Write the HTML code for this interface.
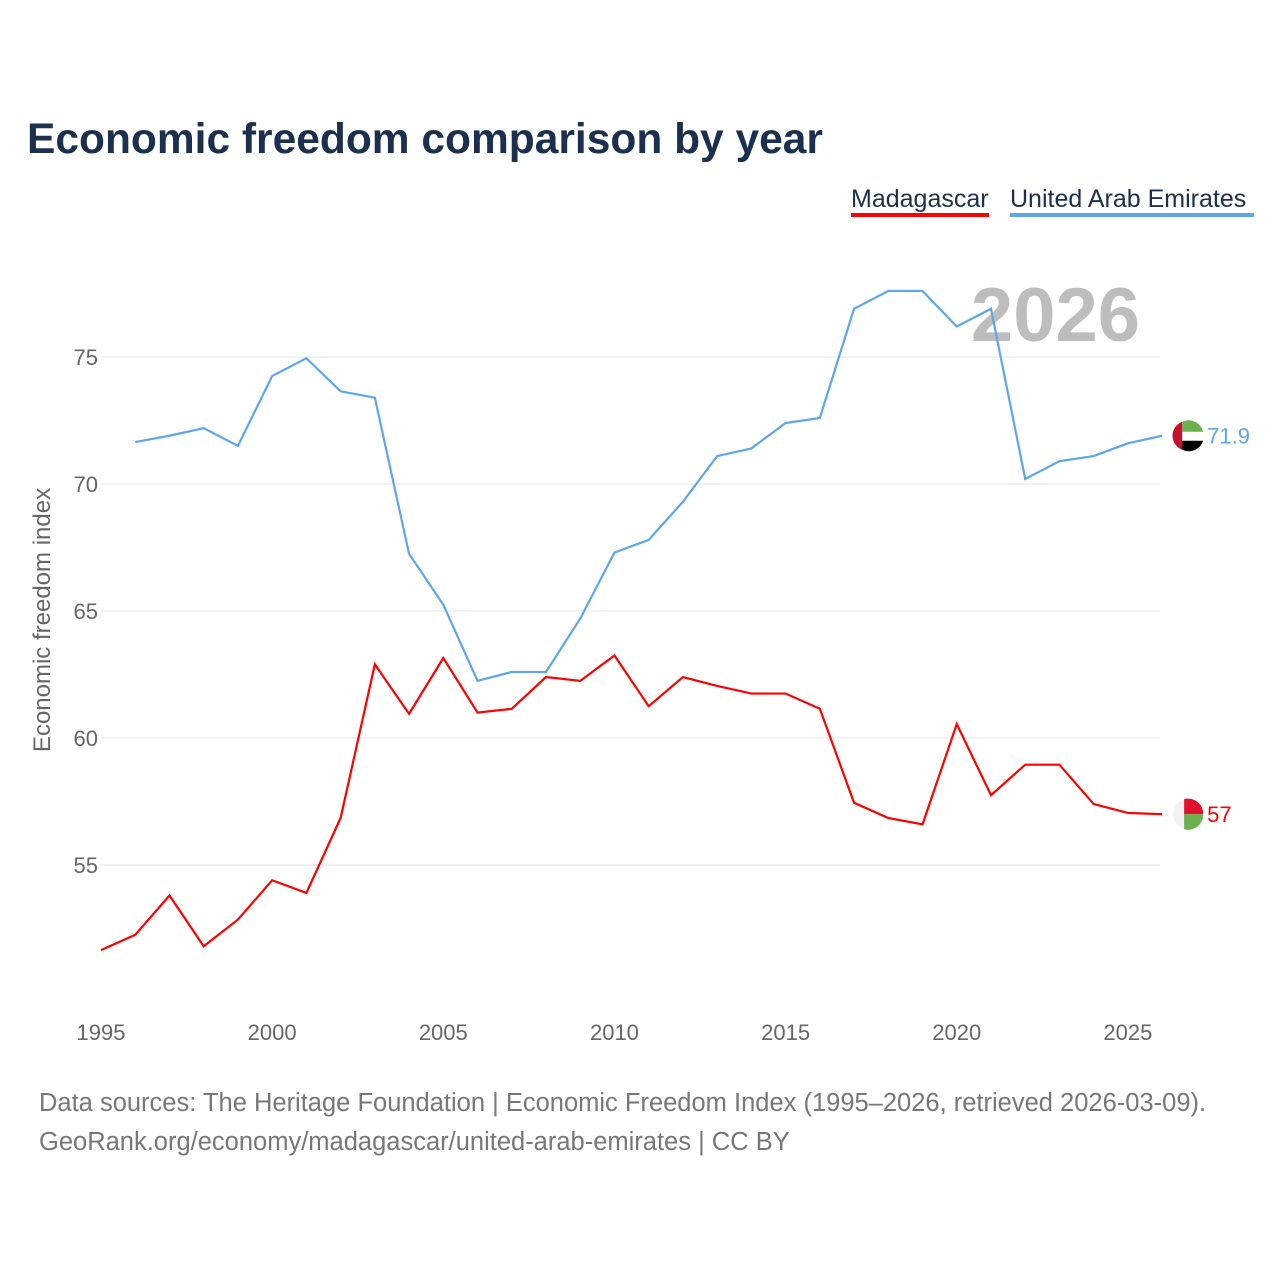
<!DOCTYPE html>
<html><head><meta charset="utf-8"><style>
body{margin:0;width:1280px;height:1280px;background:#fff;font-family:"Liberation Sans",sans-serif;overflow:hidden}
</style></head><body>
<svg width="1280" height="1280" id="svg" font-family="Liberation Sans, sans-serif">
<text x="27" y="153" font-size="42.5" font-weight="bold" fill="#1b2f4e">Economic freedom comparison by year</text>
<g><text x="851" y="207" font-size="25" fill="#1b2f4e">Madagascar</text><rect x="851" y="213" width="138" height="4" fill="#ff0000"/></g>
<g><text x="1010" y="207" font-size="25" fill="#1b2f4e">United Arab Emirates</text><rect x="1010" y="213" width="244" height="4" fill="#5ea6ea"/></g>
<text x="1140" y="341" font-size="76" font-weight="bold" fill="#bdbdbd" text-anchor="end">2026</text>
<text transform="translate(50,620) rotate(-90)" font-size="24" fill="#666" text-anchor="middle">Economic freedom index</text>
<g id="grid"></g><g id="lines"></g>
<g font-size="25.5" fill="#777">
<text x="39" y="1111">Data sources: The Heritage Foundation | Economic Freedom Index (1995–2026, retrieved 2026-03-09).</text>
<text x="39" y="1150">GeoRank.org/economy/madagascar/united-arab-emirates | CC BY</text></g>
</svg>
<script>
const yTicks=[55,60,65,70,75];
const xTicks=[1995,2000,2005,2010,2015,2020,2025];
const uaeYears=[1996,1997,1998,1999,2000,2001,2002,2003,2004,2005,2006,2007,2008,2009,2010,2011,2012,2013,2014,2015,2016,2017,2018,2019,2020,2021,2022,2023,2024,2025,2026];
const uaeValues=[71.65,71.9,72.2,71.5,74.25,74.95,73.65,73.4,67.25,65.25,62.25,62.6,62.6,64.7,67.3,67.8,69.3,71.1,71.4,72.4,72.6,76.9,77.6,77.6,76.2,76.9,70.2,70.9,71.1,71.6,71.9];
const madYears=[1995,1996,1997,1998,1999,2000,2001,2002,2003,2004,2005,2006,2007,2008,2009,2010,2011,2012,2013,2014,2015,2016,2017,2018,2019,2020,2021,2022,2023,2024,2025,2026];
const madValues=[51.65,52.25,53.8,51.8,52.85,54.4,53.9,56.85,62.9,60.95,63.15,61.0,61.15,62.4,62.25,63.25,61.25,62.4,62.05,61.75,61.75,61.15,57.45,56.85,56.6,60.55,57.75,58.95,58.95,57.4,57.05,57.0];
const X=y=>101+(y-1995)*34.23, Y=v=>357+(75-v)*25.4;
const NS="http://www.w3.org/2000/svg";
function mk(t,a,p){const e=document.createElementNS(NS,t);for(const k in a)e.setAttribute(k,a[k]);p.appendChild(e);return e;}
const g=document.getElementById('grid');
yTicks.forEach(v=>{
 const l=mk('line',{x1:101,x2:1160,y1:Y(v),y2:Y(v),stroke:'#e6e6e6'},g);
 
 
 const t=mk('text',{x:98,y:Y(v)+8,'font-size':22,fill:'#666','text-anchor':'end'},g);t.textContent=v;
 
 
});
xTicks.forEach(v=>{
 const t=mk('text',{x:X(v),y:1040,'font-size':22,fill:'#666','text-anchor':'middle'},g);t.textContent=v;
 
 
});
const L=document.getElementById('lines');
function line(ys,vs,c,name){
 const p=mk('polyline',{points:ys.map((y,i)=>X(y)+','+Y(vs[i])).join(' '),fill:'none',stroke:c,'stroke-width':2.2},L);
 
 
 const last=vs[vs.length-1],lx=X(ys[ys.length-1]);
 const t=mk('text',{x:lx+45,y:Y(last)+8,'font-size':22,fill:c},L);t.textContent=last;
 
 
 return [lx+26,Y(last)];
}
const [ux,uy]=line(uaeYears,uaeValues,'#5ea6ea','uae-line');
const [mx,my]=line(madYears,madValues,'#ff0000','madagascar-line');
const f1=mk('g',{},L);


mk('circle',{cx:ux,cy:uy,r:15,fill:'#fff'},f1);
mk('path',{d:`M${ux-6},${uy-14}A15,15 0 0 1 ${ux+15},${uy-4}L${ux-6},${uy-4}Z`,fill:'#6ab04c'},f1);
mk('path',{d:`M${ux-6},${uy+5}L${ux+15},${uy+5}A15,15 0 0 1 ${ux-6},${uy+14}Z`,fill:'#000'},f1);
mk('path',{d:`M${ux-6},${uy-14}A15,15 0 0 0 ${ux-6},${uy+14}Z`,fill:'#c8102e'},f1);
const f2=mk('g',{},L);


mk('circle',{cx:mx,cy:my,r:15,fill:'#f2f2f2'},f2);
mk('path',{d:`M${mx-4},${my-15}A15,15 0 0 1 ${mx+15},${my}L${mx-4},${my}Z`,fill:'#e0102e'},f2);
mk('path',{d:`M${mx-4},${my}L${mx+15},${my}A15,15 0 0 1 ${mx-4},${my+15}Z`,fill:'#6ab04c'},f2);
</script>
</body></html>
